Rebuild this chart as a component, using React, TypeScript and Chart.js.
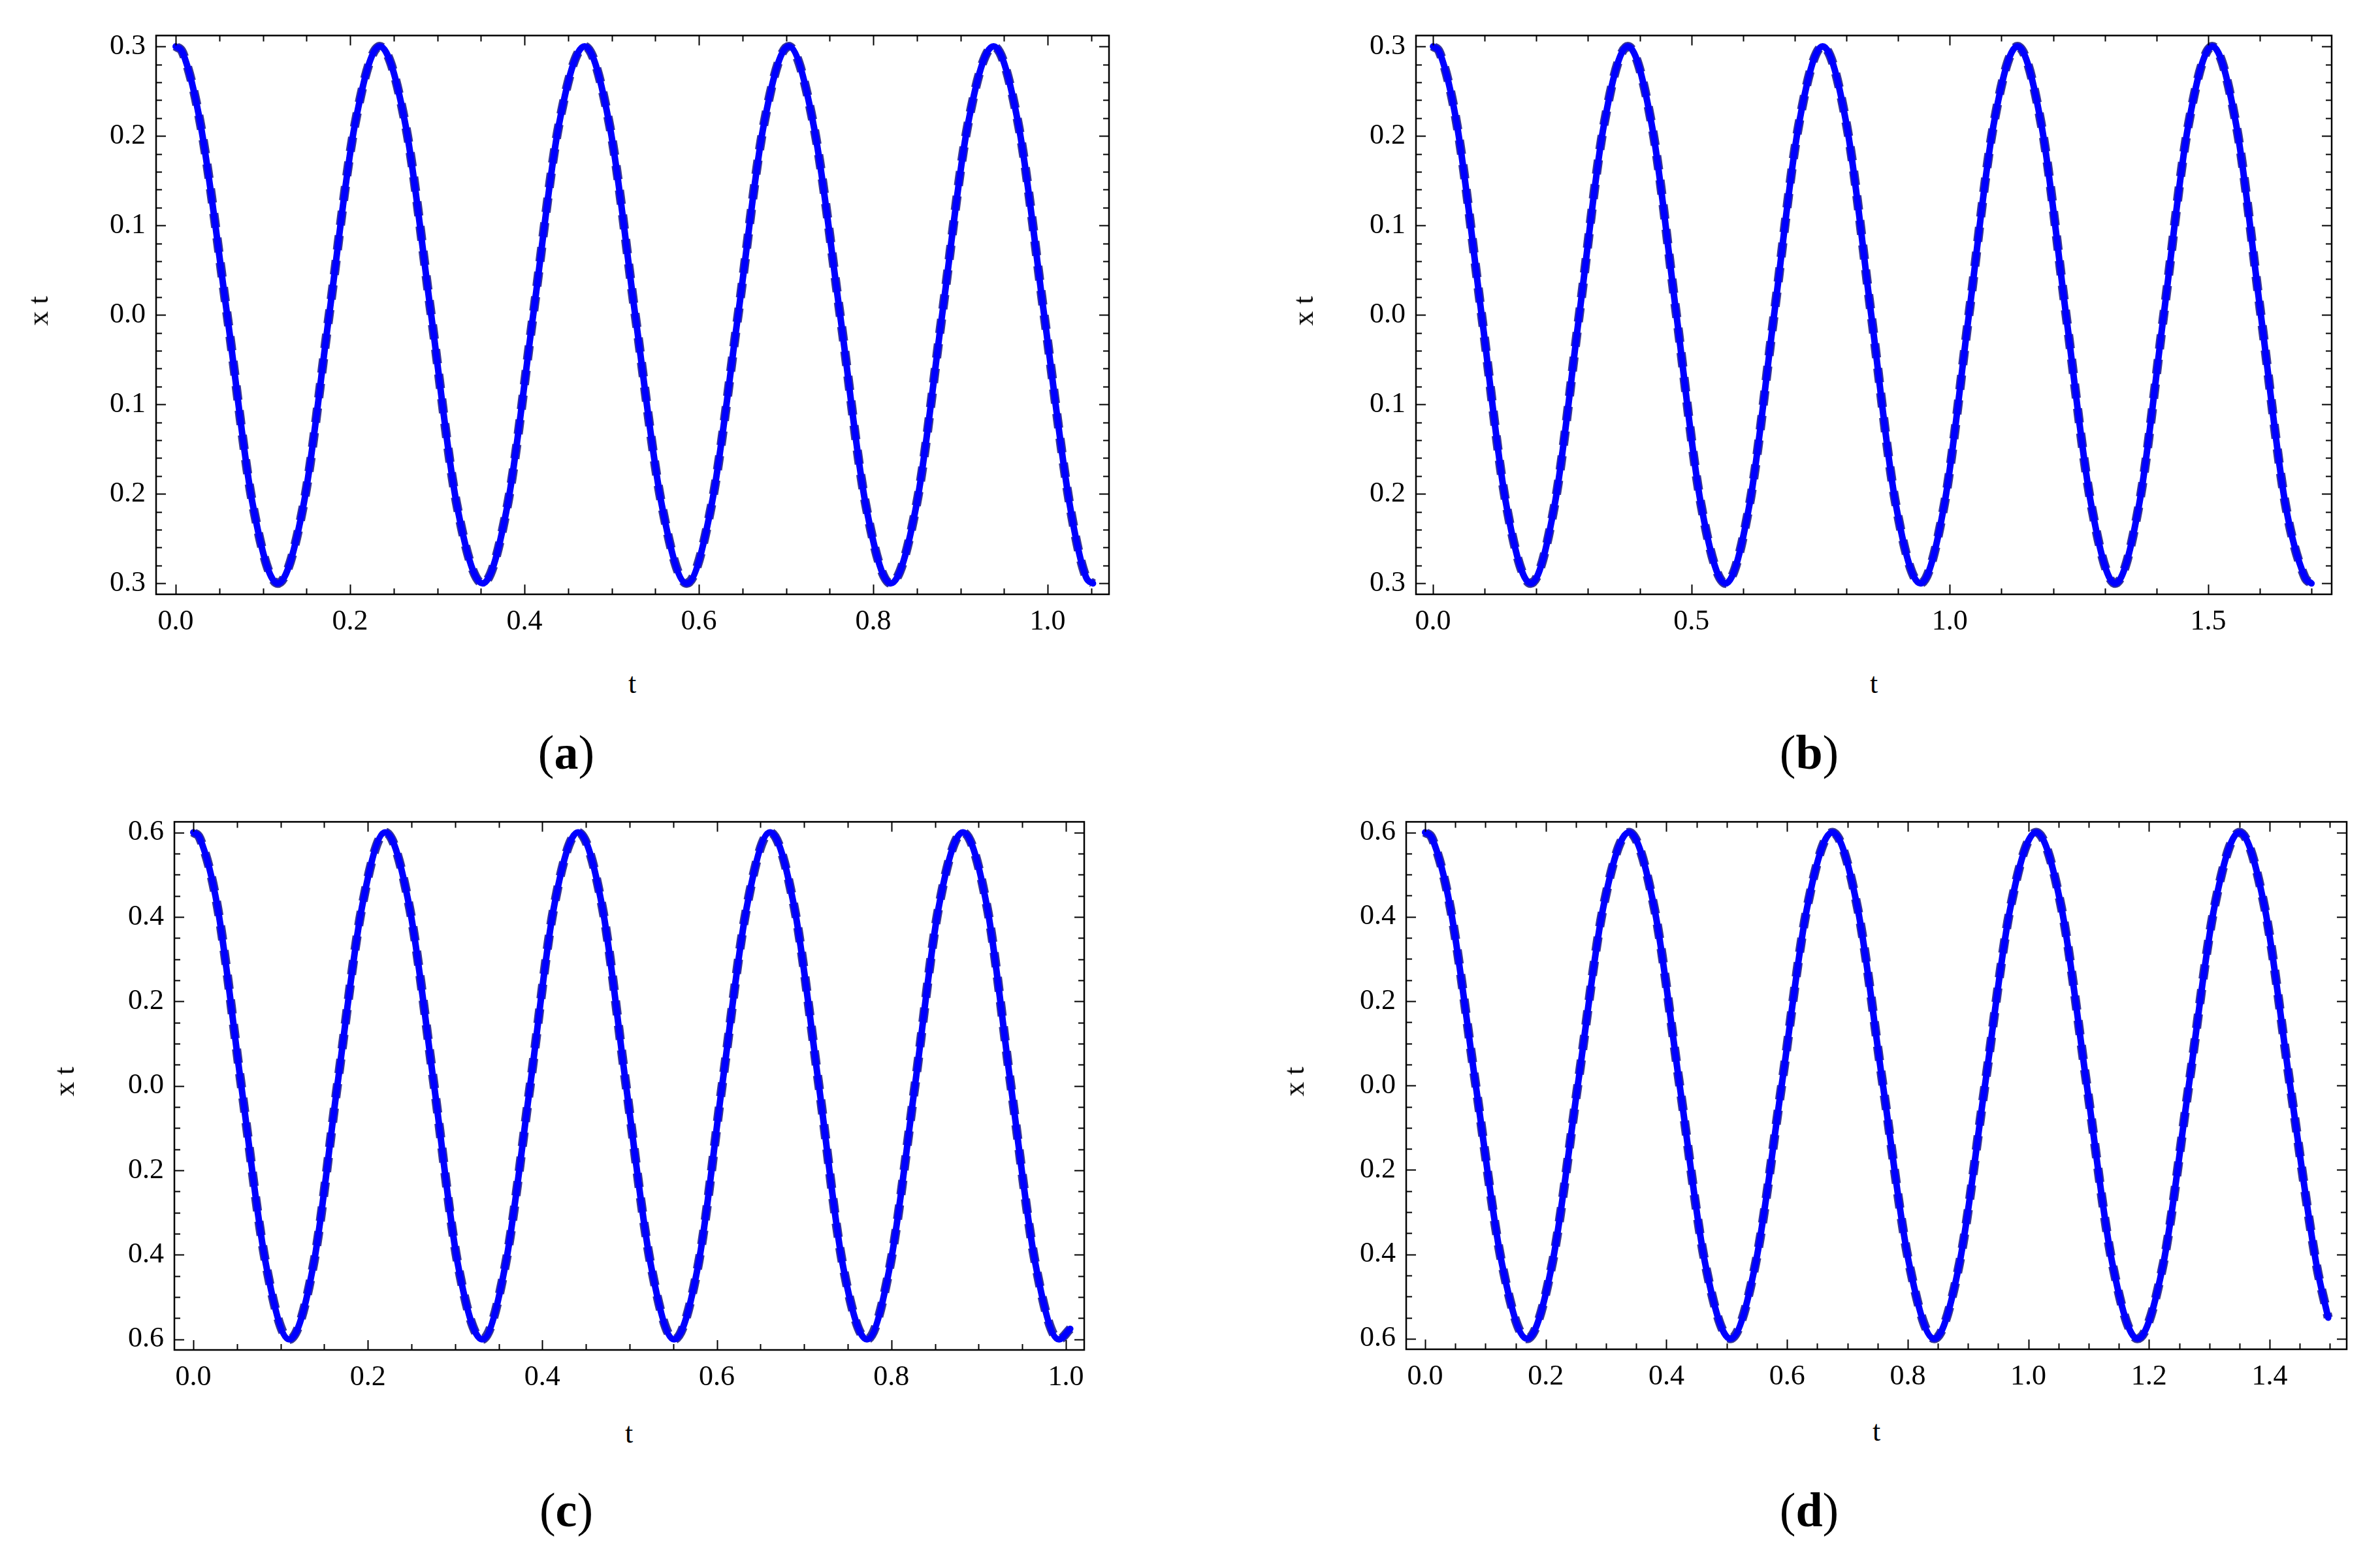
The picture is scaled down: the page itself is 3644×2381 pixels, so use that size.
import React, { useEffect, useRef } from "react";
import { Chart, registerables } from "chart.js";

Chart.register(...registerables);

// ---------- data ----------
const tA = [0.000, 0.008, 0.029, 0.059, 0.088, 0.117, 0.147, 0.176, 0.205, 0.234, 0.264, 0.293, 0.322, 0.352, 0.381, 0.410, 0.439, 0.469, 0.498, 0.527, 0.557, 0.586, 0.615, 0.645, 0.674, 0.703, 0.732, 0.762, 0.791, 0.820, 0.850, 0.879, 0.908, 0.938, 0.967, 0.996, 1.025, 1.044, 1.052];
const xA = [0.30, 0.293, 0.21, 0.00, -0.21, -0.30, -0.21, 0.00, 0.21, 0.30, 0.21, 0.00, -0.21, -0.30, -0.21, 0.00, 0.21, 0.30, 0.21, 0.00, -0.21, -0.30, -0.21, 0.00, 0.21, 0.30, 0.21, 0.00, -0.21, -0.30, -0.21, 0.00, 0.21, 0.30, 0.21, 0.00, -0.21, -0.293, -0.30];

const tB = [0.000, 0.013, 0.047, 0.094, 0.141, 0.189, 0.236, 0.283, 0.330, 0.377, 0.424, 0.471, 0.518, 0.566, 0.613, 0.660, 0.707, 0.754, 0.801, 0.848, 0.895, 0.943, 0.990, 1.037, 1.084, 1.131, 1.178, 1.225, 1.273, 1.320, 1.367, 1.414, 1.461, 1.508, 1.555, 1.602, 1.649, 1.687, 1.700];
const xB = [0.30, 0.293, 0.21, 0.00, -0.21, -0.30, -0.21, 0.00, 0.21, 0.30, 0.21, 0.00, -0.21, -0.30, -0.21, 0.00, 0.21, 0.30, 0.21, 0.00, -0.21, -0.30, -0.21, 0.00, 0.21, 0.30, 0.21, 0.00, -0.21, -0.30, -0.21, 0.00, 0.21, 0.30, 0.21, 0.00, -0.21, -0.293, -0.30];

const tC = [0.000, 0.0075, 0.028, 0.055, 0.083, 0.110, 0.138, 0.165, 0.193, 0.220, 0.248, 0.276, 0.303, 0.331, 0.358, 0.386, 0.413, 0.441, 0.469, 0.496, 0.524, 0.551, 0.579, 0.606, 0.634, 0.661, 0.689, 0.717, 0.744, 0.772, 0.799, 0.827, 0.854, 0.882, 0.910, 0.937, 0.965, 0.992, 1.005];
const xC = [0.60, 0.586, 0.42, 0.00, -0.42, -0.60, -0.42, 0.00, 0.42, 0.60, 0.42, 0.00, -0.42, -0.60, -0.42, 0.00, 0.42, 0.60, 0.42, 0.00, -0.42, -0.60, -0.42, 0.00, 0.42, 0.60, 0.42, 0.00, -0.42, -0.60, -0.42, 0.00, 0.42, 0.60, 0.42, 0.00, -0.42, -0.60, -0.575];

const tD = [0.000, 0.0115, 0.042, 0.084, 0.127, 0.169, 0.211, 0.253, 0.295, 0.338, 0.380, 0.422, 0.464, 0.506, 0.548, 0.591, 0.633, 0.675, 0.717, 0.759, 0.802, 0.844, 0.886, 0.928, 0.970, 1.013, 1.055, 1.097, 1.139, 1.181, 1.224, 1.266, 1.308, 1.350, 1.392, 1.434, 1.477, 1.497];
const xD = [0.60, 0.586, 0.42, 0.00, -0.42, -0.60, -0.42, 0.00, 0.42, 0.60, 0.42, 0.00, -0.42, -0.60, -0.42, 0.00, 0.42, 0.60, 0.42, 0.00, -0.42, -0.60, -0.42, 0.00, 0.42, 0.60, 0.42, 0.00, -0.42, -0.60, -0.42, 0.00, 0.42, 0.60, 0.42, 0.00, -0.42, -0.55];

// tick values and labels
const xTicksA = [0, 0.2, 0.4, 0.6, 0.8, 1.0];
const xLabelsA = ["0.0", "0.2", "0.4", "0.6", "0.8", "1.0"];
const xTicksB = [0, 0.5, 1.0, 1.5];
const xLabelsB = ["0.0", "0.5", "1.0", "1.5"];
const xTicksC = [0, 0.2, 0.4, 0.6, 0.8, 1.0];
const xLabelsC = ["0.0", "0.2", "0.4", "0.6", "0.8", "1.0"];
const xTicksD = [0, 0.2, 0.4, 0.6, 0.8, 1.0, 1.2, 1.4];
const xLabelsD = ["0.0", "0.2", "0.4", "0.6", "0.8", "1.0", "1.2", "1.4"];
const yTicksSmall = [-0.3, -0.2, -0.1, 0, 0.1, 0.2, 0.3];
const yLabelsSmall = ["0.3", "0.2", "0.1", "0.0", "0.1", "0.2", "0.3"];
const yTicksLarge = [-0.6, -0.4, -0.2, 0, 0.2, 0.4, 0.6];
const yLabelsLarge = ["0.6", "0.4", "0.2", "0.0", "0.2", "0.4", "0.6"];

const yTitle = "x t";
const xTitle = "t";
const captions = ["a", "b", "c", "d"];

// ---------- layout / style ----------
const FONT = '"Liberation Serif", "Times New Roman", Times, serif';
const PAD_L = 200;
const PAD_T = 30;
const PAD_R = 30;
const PAD_B = 90;

type PanelCfg = {
  t: number[];
  x: number[];
  frame: { l: number; t: number; r: number; b: number };
  xr: [number, number];
  yr: [number, number];
  xTicks: number[];
  xLabels: string[];
  xMinor: number;
  yTicks: number[];
  yLabels: string[];
  yMinor: number;
  yTitlePos: [number, number];
  xTitlePos: [number, number];
  capPos: [number, number];
  cap: string;
};

const panels: PanelCfg[] = [
  {
    t: tA, x: xA,
    frame: { l: 239, t: 42, r: 1698, b: 910 },
    xr: [-0.0225, 1.0704], yr: [-0.3122, 0.3122],
    xTicks: xTicksA, xLabels: xLabelsA, xMinor: 0.05,
    yTicks: yTicksSmall, yLabels: yLabelsSmall, yMinor: 0.02,
    yTitlePos: [59, 476], xTitlePos: [968, 1047], capPos: [867, 1152], cap: captions[0],
  },
  {
    t: tB, x: xB,
    frame: { l: 2168, t: 42, r: 3570, b: 910 },
    xr: [-0.033, 1.739], yr: [-0.3122, 0.3122],
    xTicks: xTicksB, xLabels: xLabelsB, xMinor: 0.1,
    yTicks: yTicksSmall, yLabels: yLabelsSmall, yMinor: 0.02,
    yTitlePos: [1996, 476], xTitlePos: [2869, 1047], capPos: [2770, 1152], cap: captions[1],
  },
  {
    t: tC, x: xC,
    frame: { l: 267, t: 1246, r: 1660, b: 2067 },
    xr: [-0.0217, 1.021], yr: [-0.625, 0.625],
    xTicks: xTicksC, xLabels: xLabelsC, xMinor: 0.05,
    yTicks: yTicksLarge, yLabels: yLabelsLarge, yMinor: 0.05,
    yTitlePos: [99, 1656], xTitlePos: [963, 2195], capPos: [867, 2312], cap: captions[2],
  },
  {
    t: tD, x: xD,
    frame: { l: 2153, t: 1246, r: 3593, b: 2066 },
    xr: [-0.0314, 1.5277], yr: [-0.625, 0.625],
    xTicks: xTicksD, xLabels: xLabelsD, xMinor: 0.05,
    yTicks: yTicksLarge, yLabels: yLabelsLarge, yMinor: 0.05,
    yTitlePos: [1982, 1656], xTitlePos: [2873, 2192], capPos: [2770, 2312], cap: captions[3],
  },
];

function labelFor(ticks: number[], labels: string[], v: number) {
  const i = ticks.findIndex((m) => Math.abs(m - v) < 1e-9);
  return i >= 0 ? labels[i] : "";
}

function minorValues(min: number, max: number, step: number, majors: number[]) {
  const out: number[] = [];
  const start = Math.ceil(min / step - 1e-9);
  const end = Math.floor(max / step + 1e-9);
  for (let k = start; k <= end; k++) {
    const v = k * step;
    if (!majors.some((m) => Math.abs(m - v) < 1e-9)) out.push(v);
  }
  return out;
}

function PanelChart({ p }: { p: PanelCfg }) {
  const ref = useRef<HTMLCanvasElement | null>(null);
  const W = p.frame.r - p.frame.l + PAD_L + PAD_R;
  const H = p.frame.b - p.frame.t + PAD_T + PAD_B;

  useEffect(() => {
    if (!ref.current) return;
    const pts = p.t.map((tv, i) => ({ x: tv, y: p.x[i] }));
    const framePlugin = {
      id: "frameTicks",
      afterDatasetsDraw(chart: any) {
        const { ctx, chartArea: a, scales } = chart;
        const sx = scales.x;
        const sy = scales.y;
        ctx.save();
        ctx.strokeStyle = "#000";
        ctx.lineWidth = 2;
        ctx.beginPath();
        const xMin = minorValues(p.xr[0], p.xr[1], p.xMinor, p.xTicks);
        const yMin = minorValues(p.yr[0], p.yr[1], p.yMinor, p.yTicks);
        const drawX = (v: number, len: number) => {
          const px = Math.round(sx.getPixelForValue(v)) + 0.5;
          ctx.moveTo(px, a.bottom);
          ctx.lineTo(px, a.bottom - len);
          ctx.moveTo(px, a.top);
          ctx.lineTo(px, a.top + len);
        };
        const drawY = (v: number, len: number) => {
          const py = Math.round(sy.getPixelForValue(v)) + 0.5;
          ctx.moveTo(a.left, py);
          ctx.lineTo(a.left + len, py);
          ctx.moveTo(a.right, py);
          ctx.lineTo(a.right - len, py);
        };
        p.xTicks.forEach((v) => drawX(v, 15));
        xMin.forEach((v) => drawX(v, 9));
        p.yTicks.forEach((v) => drawY(v, 15));
        yMin.forEach((v) => drawY(v, 9));
        ctx.stroke();
        ctx.lineWidth = 2.5;
        ctx.strokeRect(a.left, a.top, a.right - a.left, a.bottom - a.top);
        ctx.restore();
      },
    };

    const chart = new Chart(ref.current, {
      type: "line",
      data: {
        datasets: [
          {
            data: pts,
            borderColor: "#0000ff",
            borderWidth: 10,
            pointRadius: 0,
            cubicInterpolationMode: "monotone",
            borderCapStyle: "round",
            borderJoinStyle: "round",
            fill: false,
          },
          {
            data: pts,
            borderColor: "#383898",
            borderWidth: 14,
            borderDash: [22, 16],
            pointRadius: 0,
            cubicInterpolationMode: "monotone",
            borderCapStyle: "butt",
            borderJoinStyle: "round",
            fill: false,
          },
        ],
      },
      options: {
        animation: false,
        responsive: false,
        maintainAspectRatio: false,
        devicePixelRatio: 1,
        layout: { padding: { left: 0, top: PAD_T, right: PAD_R, bottom: 0 } },
        plugins: { legend: { display: false }, tooltip: { enabled: false } },
        events: [],
        scales: {
          x: {
            type: "linear",
            min: p.xr[0],
            max: p.xr[1],
            afterFit: (s: any) => { s.height = PAD_B; },
            afterBuildTicks: (s: any) => { s.ticks = p.xTicks.map((v) => ({ value: v })); },
            grid: { display: false, drawTicks: false },
            border: { display: false },
            ticks: {
              autoSkip: false,
              maxRotation: 0,
              padding: 16,
              color: "#000",
              font: { family: FONT, size: 44 },
              callback: (v: any) => labelFor(p.xTicks, p.xLabels, Number(v)),
            },
          },
          y: {
            type: "linear",
            min: p.yr[0],
            max: p.yr[1],
            afterFit: (s: any) => { s.width = PAD_L; },
            afterBuildTicks: (s: any) => { s.ticks = p.yTicks.map((v) => ({ value: v })); },
            grid: { display: false, drawTicks: false },
            border: { display: false },
            ticks: {
              autoSkip: false,
              padding: 16,
              color: "#000",
              font: { family: FONT, size: 44 },
              callback: (v: any) => labelFor(p.yTicks, p.yLabels, Number(v)),
            },
          },
        },
      },
      plugins: [framePlugin],
    } as any);
    return () => chart.destroy();
  }, [p]);

  return (
    <>
      <canvas
        ref={ref}
        width={W}
        height={H}
        style={{
          position: "absolute",
          left: p.frame.l - PAD_L,
          top: p.frame.t - PAD_T,
          width: W,
          height: H,
        }}
      />
      <div
        style={{
          position: "absolute",
          left: p.yTitlePos[0],
          top: p.yTitlePos[1],
          transform: "translate(-50%, -50%) rotate(-90deg)",
          fontFamily: FONT,
          fontSize: 44,
          lineHeight: 1,
          whiteSpace: "pre",
          color: "#000",
        }}
      >
        {yTitle}
      </div>
      <div
        style={{
          position: "absolute",
          left: p.xTitlePos[0],
          top: p.xTitlePos[1],
          transform: "translate(-50%, -50%)",
          fontFamily: FONT,
          fontSize: 44,
          lineHeight: 1,
          color: "#000",
        }}
      >
        {xTitle}
      </div>
      <div
        style={{
          position: "absolute",
          left: p.capPos[0],
          top: p.capPos[1],
          transform: "translate(-50%, -50%)",
          fontFamily: FONT,
          fontSize: 74,
          lineHeight: 1,
          color: "#000",
          whiteSpace: "pre",
        }}
      >
        (<b>{p.cap}</b>)
      </div>
    </>
  );
}

export default function App() {
  return (
    <div
      style={{
        position: "absolute",
        left: 0,
        top: 0,
        width: 3644,
        height: 2381,
        overflow: "hidden",
        background: "#fff",
      }}
    >
      {panels.map((p, i) => (
        <PanelChart key={i} p={p} />
      ))}
    </div>
  );
}
